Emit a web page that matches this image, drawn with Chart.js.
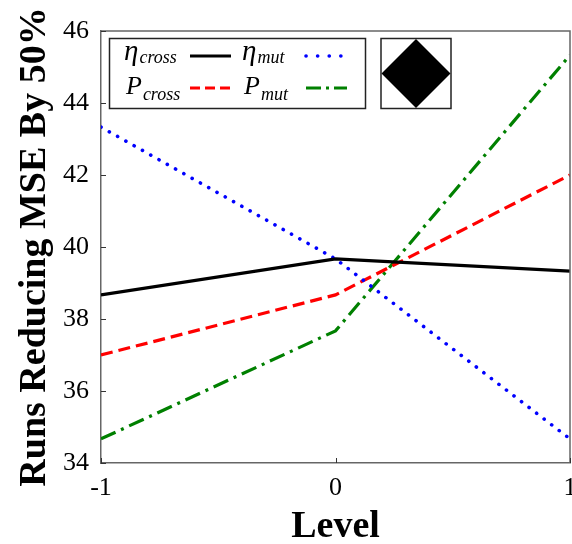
<!DOCTYPE html>
<html>
<head>
<meta charset="utf-8">
<script src="https://cdn.jsdelivr.net/npm/chart.js@4/dist/chart.umd.min.js"></script>
<style>
  html, body { margin: 0; padding: 0; background: #fff; }
  #wrap { width: 572px; height: 544px; }
</style>
</head>
<body>
<div id="wrap"><canvas id="chartLevel" width="572" height="544"></canvas></div>
<script>
// factor levels and runs counts per parameter
const levels = [-1, 0, 1];
const etaCross = [38.67, 39.67, 39.33];
const etaMut = [43.33, 39.67, 34.67];
const pCross = [37.0, 38.67, 42.0];
const pMut = [34.67, 37.67, 45.33];

const yMin = 34, yMax = 46, yStep = 2;
const xTickLabels = { '-1': '-1', '0': '0', '1': '1' };

const SERIF = '"Liberation Serif", "Times New Roman", serif';

function pts(ys) {
  return levels.map((x, i) => ({ x: x, y: ys[i] }));
}

// frame, inward ticks, legend with subscripts, diamond box
const decor = {
  id: 'decor',
  afterDatasetsDraw(chart) {
    const { ctx, chartArea: a, scales } = chart;
    ctx.save();
    ctx.strokeStyle = '#666';
    ctx.lineWidth = 1.5;
    ctx.beginPath();
    ctx.moveTo(a.left, a.top);
    ctx.lineTo(a.right, a.top);
    ctx.lineTo(a.right, a.bottom);
    ctx.stroke();

    ctx.strokeStyle = '#333';
    ctx.lineWidth = 1;
    ctx.beginPath();
    scales.y.ticks.forEach(t => {
      const py = Math.round(scales.y.getPixelForValue(t.value)) + 0.5;
      ctx.moveTo(a.left, py);
      ctx.lineTo(a.left + 5, py);
    });
    scales.x.ticks.forEach(t => {
      const px = Math.round(scales.x.getPixelForValue(t.value)) + 0.5;
      ctx.moveTo(px, a.bottom);
      ctx.lineTo(px, a.bottom - 5);
    });
    ctx.stroke();

    // legend box
    ctx.fillStyle = '#fff';
    ctx.fillRect(109.5, 38.5, 256, 70);
    ctx.strokeStyle = '#222';
    ctx.lineWidth = 1.5;
    ctx.strokeRect(109.5, 38.5, 256, 70);

    const ds = chart.data.datasets;
    const entries = [
      { sym: 'η', sub: 'cross', x: 124, y: 60, symSize: 29, subDy: 3, ds: ds[0], lx: 190, ly: 56 },
      { sym: 'η', sub: 'mut', x: 242, y: 60, symSize: 29, subDy: 3, ds: ds[1], lx: 306, ly: 56 },
      { sym: 'P', sub: 'cross', x: 126, y: 94, symSize: 26, subDy: 6, ds: ds[2], lx: 190, ly: 88 },
      { sym: 'P', sub: 'mut', x: 244, y: 94, symSize: 26, subDy: 6, ds: ds[3], lx: 306, ly: 88 }
    ];
    ctx.fillStyle = '#000';
    ctx.textBaseline = 'alphabetic';
    ctx.textAlign = 'left';
    entries.forEach(e => {
      ctx.font = 'italic ' + e.symSize + 'px ' + SERIF;
      ctx.fillText(e.sym, e.x, e.y);
      const w = ctx.measureText(e.sym).width;
      ctx.font = 'italic 18px ' + SERIF;
      ctx.fillText(e.sub, e.x + w + 1, e.y + e.subDy);

      ctx.save();
      ctx.strokeStyle = e.ds.borderColor;
      ctx.lineWidth = e.ds.borderWidth;
      ctx.lineCap = e.ds.borderCapStyle || 'butt';
      ctx.setLineDash(e.ds.legendDash || []);
      ctx.beginPath();
      ctx.moveTo(e.lx, e.ly);
      ctx.lineTo(e.lx + 41, e.ly);
      ctx.stroke();
      ctx.restore();
    });

    // diamond box
    ctx.fillStyle = '#fff';
    ctx.fillRect(381, 38.5, 70, 70);
    ctx.strokeStyle = '#222';
    ctx.strokeRect(381, 38.5, 70, 70);
    ctx.fillStyle = '#000';
    ctx.beginPath();
    ctx.moveTo(416, 39);
    ctx.lineTo(450.5, 73.5);
    ctx.lineTo(416, 108);
    ctx.lineTo(381.5, 73.5);
    ctx.closePath();
    ctx.fill();
    ctx.restore();
  }
};

const ctx = document.getElementById('chartLevel').getContext('2d');
new Chart(ctx, {
  type: 'line',
  data: {
    datasets: [
      {
        label: 'ηcross',
        data: pts(etaCross),
        borderColor: '#000000',
        borderWidth: 3.2,
        legendDash: []
      },
      {
        label: 'ηmut',
        data: pts(etaMut),
        borderColor: '#0000ff',
        borderWidth: 3.6,
        borderCapStyle: 'round',
        borderDash: [0.1, 9.4],
        legendDash: [0.1, 11.5]
      },
      {
        label: 'Pcross',
        data: pts(pCross),
        borderColor: '#ff0000',
        borderWidth: 3.2,
        borderDash: [12, 6],
        legendDash: [10, 5]
      },
      {
        label: 'Pmut',
        data: pts(pMut),
        borderColor: '#008000',
        borderWidth: 3.2,
        borderDash: [16, 6, 3, 6],
        legendDash: [15, 5, 3, 5]
      }
    ]
  },
  options: {
    responsive: false,
    animation: false,
    events: [],
    elements: { point: { radius: 0 }, line: { tension: 0, fill: false } },
    layout: { padding: { top: 31, right: 2, left: 0, bottom: 0 } },
    plugins: { legend: { display: false }, tooltip: { enabled: false } },
    scales: {
      x: {
        type: 'linear',
        min: -1,
        max: 1,
        afterFit(s) {
          s.height = 81;
          s.paddingLeft = 0;
          s.paddingRight = 0;
        },
        grid: { display: false, drawTicks: false },
        border: { display: true, color: '#666', width: 1.5 },
        ticks: {
          stepSize: 1,
          padding: 10,
          color: '#000',
          font: { family: SERIF, size: 26 },
          callback: v => xTickLabels[String(v)]
        },
        title: {
          display: true,
          text: 'Level',
          color: '#000',
          font: { family: SERIF, size: 38, weight: 'bold', lineHeight: 0.9 },
          padding: { top: 0, bottom: 0 }
        }
      },
      y: {
        min: yMin,
        max: yMax,
        afterFit(s) {
          s.width = 101;
          s.paddingTop = 0;
          s.paddingBottom = 0;
        },
        grid: { display: false, drawTicks: false },
        border: { display: true, color: '#666', width: 1.5 },
        ticks: {
          stepSize: yStep,
          padding: 12,
          color: '#000',
          font: { family: SERIF, size: 26 }
        },
        title: {
          display: true,
          text: 'Runs Reducing MSE By 50%',
          color: '#000',
          font: { family: SERIF, size: 38, weight: 'bold' },
          padding: { top: 12, bottom: 0 }
        }
      }
    }
  },
  plugins: [decor]
});
</script>
</body>
</html>
